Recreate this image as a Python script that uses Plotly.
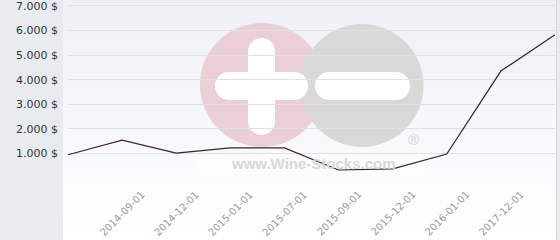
import plotly.graph_objects as go

# ---- data ----
dates = ["2014-06-01", "2014-09-01", "2014-12-01", "2015-01-01", "2015-07-01",
         "2015-09-01", "2015-12-01", "2016-01-01", "2017-12-01", "2018-06-01"]
prices = [945, 1540, 1010, 1225, 1225, 325, 375, 975, 4350, 5830]
label_idx = [1, 2, 3, 4, 5, 6, 7, 8]
y_ticks = [0, 1000, 2000, 3000, 4000, 5000, 6000, 7000]
y_labels = ["", "1.000 $", "2.000 $", "3.000 $", "4.000 $", "5.000 $", "6.000 $", "7.000 $"]

W, H = 560, 240
ML, MR, MT, MB = 68, 5, 0, 62
PW, PH = W - ML - MR, H - MT - MB


def px(xp):
    return (xp - ML) / PW


def py(yp):
    return (H - MB - yp) / PH


xs = list(range(len(prices)))

fig = go.Figure()
fig.add_trace(go.Scatter(x=xs, y=prices, mode="lines",
                         line=dict(color="#3b2230", width=1.2),
                         hoverinfo="skip", showlegend=False))

shapes = []
# gradient background strips
top = (238, 240, 245)
bot = (255, 255, 255)
n = 30
y0p, y1p = 0, 240
for i in range(n):
    t = i / (n - 1)
    c = tuple(int(round(top[k] + (bot[k] - top[k]) * t)) for k in range(3))
    ya = y0p + (y1p - y0p) * i / n
    yb = y0p + (y1p - y0p) * (i + 1) / n + 0.5
    shapes.append(dict(type="rect", xref="paper", yref="paper", layer="below",
                       x0=px(63), x1=px(556), y0=py(yb), y1=py(ya),
                       fillcolor="rgb(%d,%d,%d)" % c, line=dict(width=0)))

# right border
shapes.append(dict(type="line", xref="paper", yref="paper", layer="below",
                   x0=px(556.5), x1=px(556.5), y0=py(240), y1=py(0),
                   line=dict(color="#d3d7db", width=1)))


def circ(cx, cy, r, color):
    shapes.append(dict(type="circle", xref="paper", yref="paper", layer="below",
                       x0=px(cx - r), x1=px(cx + r), y0=py(cy + r), y1=py(cy - r),
                       fillcolor=color, line=dict(width=0)))


def rect(xa, ya, xb, yb, color):
    shapes.append(dict(type="rect", xref="paper", yref="paper", layer="below",
                       x0=px(xa), x1=px(xb), y0=py(yb), y1=py(ya),
                       fillcolor=color, line=dict(width=0)))


def hbar(xa, xb, ya, yb, color):
    r = (yb - ya) / 2
    rect(xa + r, ya, xb - r, yb, color)
    circ(xa + r, ya + r, r, color)
    circ(xb - r, ya + r, r, color)


def vbar(xa, xb, ya, yb, color):
    r = (xb - xa) / 2
    rect(xa, ya + r, xb, yb - r, color)
    circ(xa + r, ya + r, r, color)
    circ(xa + r, yb - r, r, color)


# watermark logo
circ(262, 85, 62, "#eacfd6")
circ(362, 85.5, 61.5, "#d8d8d8")
vbar(248, 275, 38, 135, "#ffffff")
hbar(215, 308, 72, 100, "#ffffff")
hbar(315, 410, 72, 100, "#ffffff")
rect(195, 153, 427, 175, "#fcfcfd")

annotations = []
annotations.append(dict(text="<b>www.Wine-Stocks.com</b>", xref="paper", yref="paper",
                        x=px(313), y=py(163), showarrow=False,
                        font=dict(family="Liberation Sans", size=15, color="#d8d8d8"),
                        xanchor="center", yanchor="middle"))
annotations.append(dict(text="®", xref="paper", yref="paper",
                        x=px(413), y=py(139), showarrow=False,
                        font=dict(family="Liberation Sans", size=15, color="#d2d2d2"),
                        xanchor="center", yanchor="middle"))

for i in label_idx:
    annotations.append(dict(text=dates[i], x=xs[i], xref="x", y=py(213), yref="paper",
                            showarrow=False, textangle=-45,
                            font=dict(family="DejaVu Sans", size=10, color="#9a9a9a"),
                            xanchor="center", yanchor="middle"))

fig.update_layout(
    width=W, height=H,
    margin=dict(l=ML, r=MR, t=MT, b=MB, pad=0),
    paper_bgcolor="#e8ecef",
    plot_bgcolor="rgba(0,0,0,0)",
    shapes=shapes,
    annotations=annotations,
    xaxis=dict(range=[0, len(prices) - 1], showgrid=False, zeroline=False,
               showticklabels=False, showline=False, fixedrange=True),
    yaxis=dict(range=[0, 7240], tickvals=y_ticks, ticktext=y_labels,
               showgrid=True, gridcolor="#dfe1e4", gridwidth=1, zeroline=False,
               showline=False, ticks="", ticklabelstandoff=9,
               ticklabeloverflow="allow",
               tickfont=dict(family="DejaVu Sans", size=11, color="#333333")),
)

fig.write_html("out.html")
